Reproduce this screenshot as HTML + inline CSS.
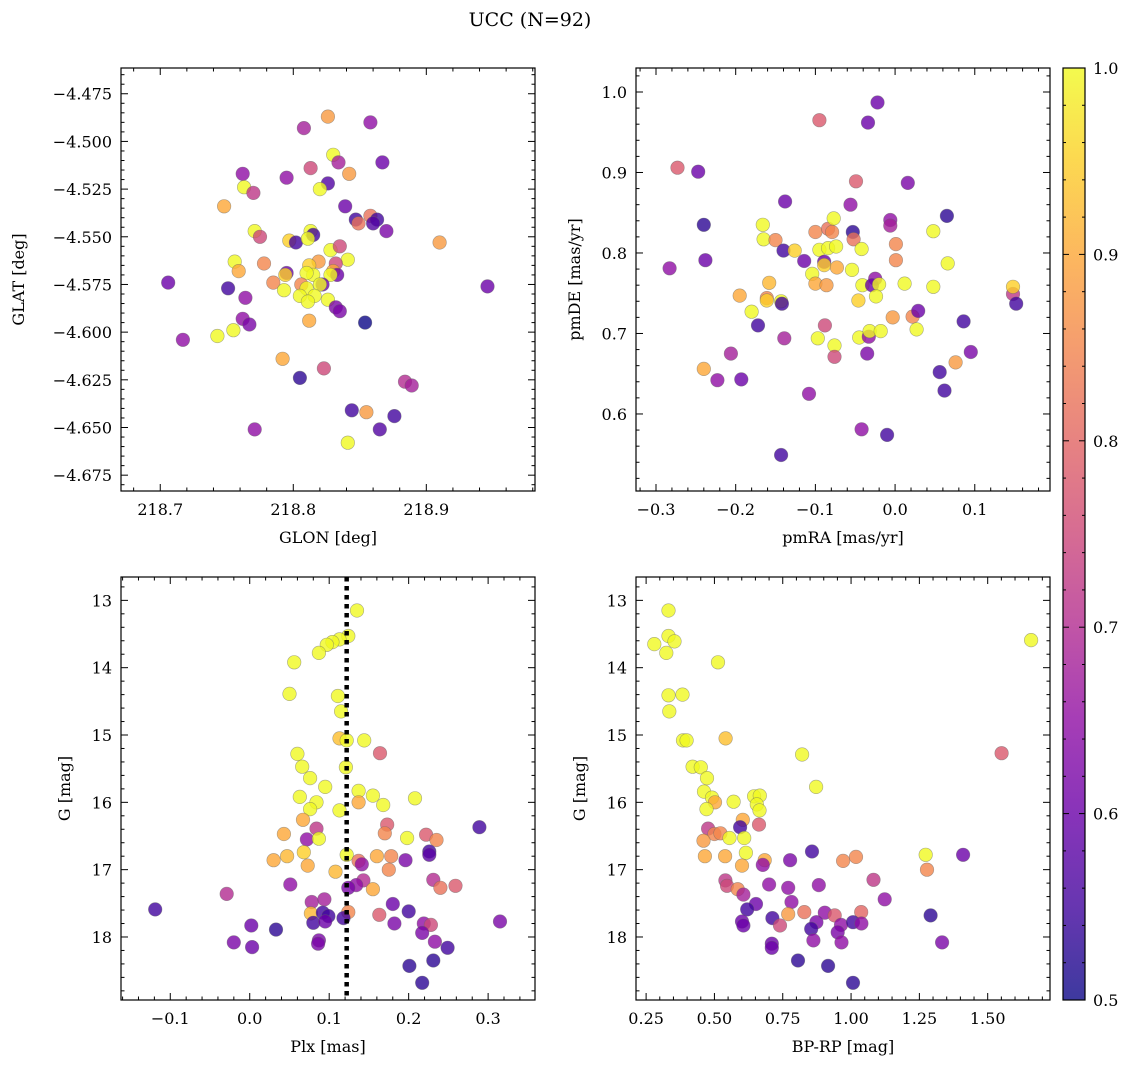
<!DOCTYPE html>
<html><head><meta charset="utf-8"><style>
html,body{margin:0;padding:0;background:#fff;}
svg{display:block;font-family:"DejaVu Serif","Liberation Serif",serif;}
</style></head><body>
<svg id="fig" width="1136" height="1067" viewBox="0 0 1136 1067" xmlns="http://www.w3.org/2000/svg">
<defs>
<linearGradient id="plasmaGrad" x1="0" y1="1" x2="0" y2="0">
<stop offset="0" stop-color="#0d0887" stop-opacity="0.8"/>
<stop offset="0.1" stop-color="#41049d" stop-opacity="0.8"/>
<stop offset="0.2" stop-color="#6a00a8" stop-opacity="0.8"/>
<stop offset="0.3" stop-color="#8f0da4" stop-opacity="0.8"/>
<stop offset="0.4" stop-color="#b12a90" stop-opacity="0.8"/>
<stop offset="0.5" stop-color="#cc4778" stop-opacity="0.8"/>
<stop offset="0.6" stop-color="#e16462" stop-opacity="0.8"/>
<stop offset="0.7" stop-color="#f2844b" stop-opacity="0.8"/>
<stop offset="0.8" stop-color="#fca636" stop-opacity="0.8"/>
<stop offset="0.9" stop-color="#fcce25" stop-opacity="0.8"/>
<stop offset="1" stop-color="#f0f921" stop-opacity="0.8"/>
</linearGradient>
</defs>
<text x="530" y="26" font-size="19" text-anchor="middle">UCC (N=92)</text>
</svg>
<script>
// ---- Panel 1: GLON vs GLAT ----
const p1Glon=[218.826,218.808,218.858,218.830,218.834,218.867,218.813,218.842,218.762,218.795,218.826,218.820,218.763,218.770,218.748,218.839,218.847,218.858,218.849,218.863,218.860,218.870,218.910,218.771,218.775,218.797,218.802,218.813,218.815,218.811,218.828,218.835,218.841,218.756,218.759,218.778,218.819,218.812,218.832,218.795,218.794,218.830,218.833,218.828,218.815,218.810,218.785,218.806,218.822,218.820,218.810,218.706,218.946,218.751,218.793,218.764,218.805,218.816,218.811,218.826,218.832,218.835,218.854,218.812,218.762,218.767,218.755,218.743,218.717,218.792,218.823,218.805,218.884,218.889,218.844,218.855,218.876,218.865,218.771,218.841];
const p1Glat=[-4.487,-4.493,-4.490,-4.507,-4.511,-4.511,-4.514,-4.517,-4.517,-4.519,-4.522,-4.525,-4.524,-4.527,-4.534,-4.534,-4.541,-4.539,-4.543,-4.541,-4.543,-4.547,-4.553,-4.547,-4.550,-4.552,-4.553,-4.547,-4.549,-4.551,-4.557,-4.555,-4.562,-4.563,-4.568,-4.564,-4.563,-4.565,-4.564,-4.569,-4.570,-4.568,-4.570,-4.570,-4.570,-4.569,-4.574,-4.575,-4.575,-4.575,-4.577,-4.574,-4.576,-4.577,-4.578,-4.582,-4.581,-4.581,-4.584,-4.583,-4.587,-4.589,-4.595,-4.594,-4.593,-4.596,-4.599,-4.602,-4.604,-4.614,-4.619,-4.624,-4.626,-4.628,-4.641,-4.642,-4.644,-4.651,-4.651,-4.658];
const p1Prob=[0.88,0.68,0.65,1.0,0.68,0.6,0.75,0.88,0.65,0.65,0.57,1.0,1.0,0.72,0.9,0.6,0.55,0.82,0.82,0.55,0.57,0.62,0.88,1.0,0.75,0.95,0.55,1.0,0.55,1.0,1.0,0.75,1.0,1.0,0.9,0.85,0.88,0.95,0.75,0.6,0.95,0.9,0.6,1.0,1.0,1.0,0.85,0.85,0.6,1.0,1.0,0.6,0.6,0.55,1.0,0.65,1.0,1.0,1.0,1.0,0.62,0.62,0.5,0.9,0.65,0.62,1.0,1.0,0.65,0.9,0.75,0.53,0.7,0.68,0.55,0.88,0.55,0.57,0.65,1.0];
const p1XTicks=[218.7,218.8,218.9];
const p1XTickLabels=["218.7","218.8","218.9"];
const p1YTicks=[-4.475,-4.5,-4.525,-4.55,-4.575,-4.6,-4.625,-4.65,-4.675];
const p1YTickLabels=["\u22124.475","\u22124.500","\u22124.525","\u22124.550","\u22124.575","\u22124.600","\u22124.625","\u22124.650","\u22124.675"];

// ---- Panel 2: pmRA vs pmDE ----
const p2PmRA=[-0.273,-0.247,-0.283,-0.240,-0.238,-0.240,-0.223,-0.206,-0.193,-0.195,-0.180,-0.172,-0.166,-0.165,-0.150,-0.158,-0.161,-0.161,-0.143,-0.142,-0.138,-0.140,-0.139,-0.143,-0.126,-0.114,-0.108,-0.104,-0.100,-0.095,-0.100,-0.095,-0.089,-0.089,-0.086,-0.088,-0.097,-0.084,-0.079,-0.077,-0.084,-0.074,-0.073,-0.076,-0.076,-0.056,-0.049,-0.053,-0.052,-0.042,-0.054,-0.041,-0.046,-0.045,-0.033,-0.034,-0.022,-0.025,-0.029,-0.020,-0.024,-0.032,-0.018,-0.035,-0.042,-0.010,-0.006,-0.006,0.001,0.001,-0.003,0.012,0.016,0.022,0.029,0.027,0.048,0.048,0.065,0.066,0.056,0.062,0.076,0.086,0.095,0.148,0.148,0.152];
const p2PmDE=[0.906,0.901,0.781,0.835,0.791,0.656,0.642,0.675,0.643,0.747,0.727,0.710,0.835,0.817,0.816,0.763,0.744,0.741,0.740,0.737,0.864,0.803,0.694,0.549,0.803,0.790,0.625,0.774,0.762,0.965,0.826,0.804,0.789,0.785,0.760,0.710,0.694,0.830,0.826,0.843,0.806,0.808,0.782,0.685,0.671,0.860,0.889,0.826,0.817,0.805,0.779,0.760,0.741,0.695,0.696,0.962,0.987,0.768,0.760,0.761,0.746,0.703,0.703,0.675,0.581,0.574,0.841,0.834,0.811,0.791,0.720,0.762,0.887,0.721,0.728,0.705,0.827,0.758,0.846,0.787,0.652,0.629,0.664,0.715,0.677,0.749,0.758,0.737];
const p2Prob=[0.78,0.6,0.65,0.53,0.6,0.9,0.65,0.68,0.6,0.9,1.0,0.55,1.0,1.0,0.85,0.92,0.85,0.95,1.0,0.55,0.6,0.55,0.68,0.55,0.95,0.6,0.65,1.0,0.9,0.78,0.85,1.0,0.6,0.95,0.88,0.75,1.0,0.82,0.85,1.0,1.0,1.0,0.9,1.0,0.75,0.65,0.78,0.53,0.82,1.0,1.0,1.0,0.95,1.0,0.65,0.6,0.6,0.65,0.6,1.0,1.0,1.0,1.0,0.62,0.65,0.55,0.65,0.68,0.85,0.85,0.88,1.0,0.62,0.85,0.6,1.0,1.0,1.0,0.53,1.0,0.55,0.55,0.88,0.55,0.62,0.72,0.95,0.55];
const p2XTicks=[-0.3,-0.2,-0.1,0.0,0.1];
const p2XTickLabels=["\u22120.3","\u22120.2","\u22120.1","0.0","0.1"];
const p2YTicks=[0.6,0.7,0.8,0.9,1.0];
const p2YTickLabels=["0.6","0.7","0.8","0.9","1.0"];

// ---- Panel 3: Plx vs G ----
const p3Plx=[0.135,0.124,0.113,0.104,0.097,0.087,0.056,0.050,0.111,0.115,0.113,0.122,0.144,0.164,0.060,0.066,0.121,0.076,0.095,0.137,0.155,0.063,0.084,0.137,0.168,0.208,0.076,0.113,0.067,0.173,0.084,0.043,0.170,0.072,0.087,0.198,0.222,0.235,0.289,0.226,0.226,0.068,0.047,0.030,0.073,0.122,0.137,0.141,0.160,0.178,0.196,0.175,0.108,0.051,0.231,0.240,0.259,0.143,0.134,0.155,0.124,-0.029,0.078,0.094,0.180,-0.119,0.077,0.092,0.099,0.124,0.118,0.163,0.200,0.080,0.095,0.182,0.219,0.228,0.217,0.315,0.002,0.033,-0.020,0.003,0.087,0.086,0.233,0.249,0.231,0.201,0.217];
const p3G=[13.15,13.53,13.58,13.62,13.66,13.78,13.92,14.39,14.42,14.65,15.05,15.08,15.08,15.27,15.28,15.47,15.48,15.64,15.77,15.83,15.90,15.92,16.00,16.00,16.04,15.94,16.10,16.12,16.26,16.33,16.39,16.47,16.46,16.55,16.54,16.53,16.48,16.56,16.37,16.73,16.78,16.74,16.80,16.86,16.94,16.78,16.87,16.92,16.80,16.80,16.86,17.00,17.03,17.22,17.15,17.27,17.24,17.16,17.23,17.29,17.27,17.36,17.48,17.44,17.51,17.59,17.65,17.64,17.69,17.63,17.72,17.67,17.62,17.79,17.77,17.80,17.80,17.82,17.94,17.77,17.83,17.89,18.08,18.15,18.05,18.10,18.07,18.16,18.35,18.43,18.68];
const p3Prob=[1,1,1,1,1,1,1,1,1,1,0.93,1,1,0.78,1,1,1,1,1,1,1,1,1,0.9,1,1,1,1,0.9,0.78,0.72,0.9,0.85,0.65,1,1,0.78,0.85,0.55,0.55,0.58,0.95,0.92,0.9,0.9,1,0.82,0.65,0.9,0.85,0.62,0.85,0.92,0.65,0.7,0.82,0.78,0.7,0.65,0.9,0.62,0.7,0.68,0.68,0.6,0.55,0.92,0.55,0.55,0.85,0.55,0.78,0.55,0.55,0.6,0.62,0.65,0.75,0.62,0.62,0.6,0.53,0.62,0.6,0.62,0.62,0.65,0.55,0.53,0.53,0.53];
const p3PlxLine=[0.122];
const p3XTicks=[-0.1,0.0,0.1,0.2,0.3];
const p3XTickLabels=["\u22120.1","0.0","0.1","0.2","0.3"];
const gTicks=[13,14,15,16,17,18];
const gTickLabels=["13","14","15","16","17","18"];

// ---- Panel 4: BP-RP vs G ----
const p4BpRp=[0.332,0.332,0.354,0.280,0.324,0.513,1.659,0.332,0.383,0.335,0.385,0.398,0.541,0.821,1.551,0.420,0.450,0.473,0.872,0.462,0.491,0.502,0.570,0.645,0.666,0.655,0.665,0.471,0.604,0.594,0.663,0.477,0.500,0.522,0.460,0.555,0.609,0.615,0.465,0.539,0.601,0.684,0.677,0.777,0.857,0.971,1.018,1.273,1.278,1.410,0.540,0.546,0.585,0.606,0.700,0.770,0.882,1.082,1.123,0.652,0.620,0.782,0.770,0.829,0.904,0.940,1.037,1.291,0.601,0.606,0.712,0.740,0.873,0.854,0.963,0.951,1.007,1.038,1.333,0.710,0.710,0.862,0.965,0.806,0.916,1.007];
const p4G=[13.15,13.53,13.61,13.65,13.78,13.92,13.59,14.41,14.40,14.65,15.08,15.08,15.05,15.29,15.27,15.47,15.48,15.64,15.77,15.84,15.93,16.00,15.99,15.91,15.90,16.03,16.12,16.10,16.26,16.37,16.33,16.39,16.47,16.46,16.57,16.53,16.53,16.75,16.80,16.80,16.94,16.86,16.93,16.86,16.73,16.87,16.81,16.78,17.00,16.78,17.16,17.24,17.29,17.37,17.22,17.27,17.23,17.15,17.44,17.51,17.59,17.48,17.66,17.63,17.64,17.68,17.63,17.68,17.77,17.83,17.72,17.83,17.78,17.88,17.82,17.93,17.78,17.80,18.08,18.10,18.16,18.05,18.08,18.35,18.43,18.68];
const p4Prob=[1,1,1,1,1,1,1,1,1,1,1,1,0.93,1,0.78,1,1,1,1,1,1,0.9,1,1,1,1,1,1,0.9,0.55,0.78,0.72,0.85,0.85,0.88,1,1,1,0.9,0.9,0.9,0.9,0.65,0.62,0.55,0.85,0.85,1,0.85,0.6,0.72,0.75,0.85,0.68,0.65,0.65,0.65,0.72,0.65,0.6,0.55,0.65,0.88,0.82,0.65,0.78,0.8,0.53,0.6,0.6,0.55,0.75,0.62,0.55,0.65,0.62,0.55,0.65,0.62,0.6,0.6,0.65,0.65,0.53,0.53,0.53];
const p4XTicks=[0.25,0.5,0.75,1.0,1.25,1.5];
const p4XTickLabels=["0.25","0.50","0.75","1.00","1.25","1.50"];

// ---- Colorbar ----
const cbTicks=[0.5,0.6,0.7,0.8,0.9,1.0];
const cbTickLabels=["0.5","0.6","0.7","0.8","0.9","1.0"];
const cbMin=0.5, cbMax=1.0;

const NS="http://www.w3.org/2000/svg";
const svg=document.getElementById('fig');
const plasma=[[13,8,135],[65,4,157],[106,0,168],[143,13,164],[177,42,144],[204,71,120],[225,100,98],[242,132,75],[252,166,54],[252,206,37],[240,249,33]];
function cmap(p){
  let t=(p-cbMin)/(cbMax-cbMin); t=Math.max(0,Math.min(1,t));
  const f=t*10, i=Math.min(9,Math.floor(f)), r=f-i;
  const a=plasma[i], b=plasma[i+1];
  return 'rgb('+a.map((v,k)=>Math.round(v+(b[k]-v)*r)).join(',')+')';
}
function el(tag,attrs,parent){
  const e=document.createElementNS(NS,tag);
  for(const k in attrs) e.setAttribute(k,attrs[k]);
  (parent||svg).appendChild(e); return e;
}
function panel(cfg){
  const g=el('g',{});
  
  
  const L=cfg.box[0],T=cfg.box[1],R=cfg.box[2],B=cfg.box[3];
  const sx=v=>L+(v-cfg.xlim[0])/(cfg.xlim[1]-cfg.xlim[0])*(R-L);
  const sy=v=>T+(cfg.ylim[1]-v)/(cfg.ylim[1]-cfg.ylim[0])*(B-T);
  const pts=el('g',{},g);
  
  
  for(let i=0;i<cfg.xs.length;i++){
    const c=el('circle',{cx:sx(cfg.xs[i]).toFixed(1),cy:sy(cfg.ys[i]).toFixed(1),r:6.8,fill:cmap(cfg.ps[i]),'fill-opacity':0.8,stroke:'#666','stroke-opacity':0.55,'stroke-width':0.6},pts);
    
    
  }
  if(cfg.vline){
    for(const v of cfg.vline){
      const ln=el('line',{x1:sx(v),x2:sx(v),y1:T,y2:B,stroke:'#000','stroke-width':4.5,'stroke-dasharray':'4.5,4.5'},g);
      
      
    }
  }
  const tk=el('g',{stroke:'#000','stroke-width':1},g);
  
  
  const x0=cfg.xlim[0],x1=cfg.xlim[1];
  for(let v=Math.ceil(x0/cfg.xminor-1e-6)*cfg.xminor;v<=x1+1e-9;v+=cfg.xminor){
    const x=sx(v); const major=cfg.xticks.some(t=>Math.abs(t-v)<cfg.xminor/10); const len=major?7:3.5;
    el('line',{x1:x,x2:x,y1:B,y2:B-len},tk); el('line',{x1:x,x2:x,y1:T,y2:T+len},tk);
  }
  const y0=Math.min(cfg.ylim[0],cfg.ylim[1]),y1=Math.max(cfg.ylim[0],cfg.ylim[1]);
  for(let v=Math.ceil(y0/cfg.yminor-1e-6)*cfg.yminor;v<=y1+1e-9;v+=cfg.yminor){
    const y=sy(v); const major=cfg.yticks.some(t=>Math.abs(t-v)<cfg.yminor/10); const len=major?7:3.5;
    el('line',{x1:L,x2:L+len,y1:y,y2:y},tk); el('line',{x1:R,x2:R-len,y1:y,y2:y},tk);
  }
  const fr=el('rect',{x:L,y:T,width:R-L,height:B-T,fill:'none',stroke:'#000','stroke-width':1.2},g);
  
  
  cfg.xticks.forEach((v,i)=>{
    const t=el('text',{x:sx(v),y:B+24,'font-size':16,'text-anchor':'middle'},g); t.textContent=cfg.xlabels[i];
    
    
  });
  cfg.yticks.forEach((v,i)=>{
    const t=el('text',{x:L-9,y:sy(v)+6,'font-size':16,'text-anchor':'end'},g); t.textContent=cfg.ylabels[i];
    
    
  });
  const xt=el('text',{x:(L+R)/2,y:B+52,'font-size':16,'text-anchor':'middle'},g); xt.textContent=cfg.xtitle;
  
  
  const yx=cfg.ytitleX, yc=(T+B)/2;
  const yt=el('text',{x:yx,y:yc,'font-size':16,'text-anchor':'middle',transform:'rotate(-90 '+yx+' '+yc+')'},g); yt.textContent=cfg.ytitle;
  
  
}
panel({name:'glon-glat-panel',box:[121,68,535,491],xlim:[218.6705,218.9817],ylim:[-4.6833,-4.4615],xs:p1Glon,ys:p1Glat,ps:p1Prob,xticks:p1XTicks,xlabels:p1XTickLabels,xminor:0.02,yticks:p1YTicks,ylabels:p1YTickLabels,yminor:0.005,xtitle:'GLON [deg]',ytitle:'GLAT [deg]',ytitleX:24});
panel({name:'pm-panel',box:[636,68,1050,491],xlim:[-0.3251,0.1944],ylim:[0.5043,1.0298],xs:p2PmRA,ys:p2PmDE,ps:p2Prob,xticks:p2XTicks,xlabels:p2XTickLabels,xminor:0.02,yticks:p2YTicks,ylabels:p2YTickLabels,yminor:0.02,xtitle:'pmRA [mas/yr]',ytitle:'pmDE [mas/yr]',ytitleX:580});
panel({name:'plx-g-panel',box:[121,577,535,1000],xlim:[-0.162,0.359],ylim:[-18.936,-12.653],xs:p3Plx,ys:p3G.map(v=>-v),ps:p3Prob,vline:p3PlxLine,xticks:p3XTicks,xlabels:p3XTickLabels,xminor:0.02,yticks:gTicks.map(v=>-v),ylabels:gTickLabels,yminor:0.2,xtitle:'Plx [mas]',ytitle:'G [mag]',ytitleX:70});
panel({name:'cmd-panel',box:[636,577,1050,1000],xlim:[0.213,1.728],ylim:[-18.936,-12.653],xs:p4BpRp,ys:p4G.map(v=>-v),ps:p4Prob,xticks:p4XTicks,xlabels:p4XTickLabels,xminor:0.05,yticks:gTicks.map(v=>-v),ylabels:gTickLabels,yminor:0.2,xtitle:'BP-RP [mag]',ytitle:'G [mag]',ytitleX:585});

(function(){
  const g=el('g',{});
  
  
  const L=1063,R=1085,T=68,B=1000;
  const r=el('rect',{x:L,y:T,width:R-L,height:B-T,fill:'url(#plasmaGrad)',stroke:'#000','stroke-width':1.2},g);
  
  
  const sy=v=>B-(v-cbMin)/(cbMax-cbMin)*(B-T);
  for(let v=cbMin;v<=cbMax+1e-9;v+=0.02){
    const major=cbTicks.some(t=>Math.abs(t-v)<0.002); const len=major?6:3;
    el('line',{x1:R,x2:R-len,y1:sy(v),y2:sy(v),stroke:'#000','stroke-width':1},g);
    el('line',{x1:L,x2:L+len,y1:sy(v),y2:sy(v),stroke:'#000','stroke-width':1},g);
  }
  cbTicks.forEach((v,i)=>{
    const t=el('text',{x:R+8,y:sy(v)+6,'font-size':16},g); t.textContent=cbTickLabels[i];
    
    
  });
})();
</script>
</body></html>
